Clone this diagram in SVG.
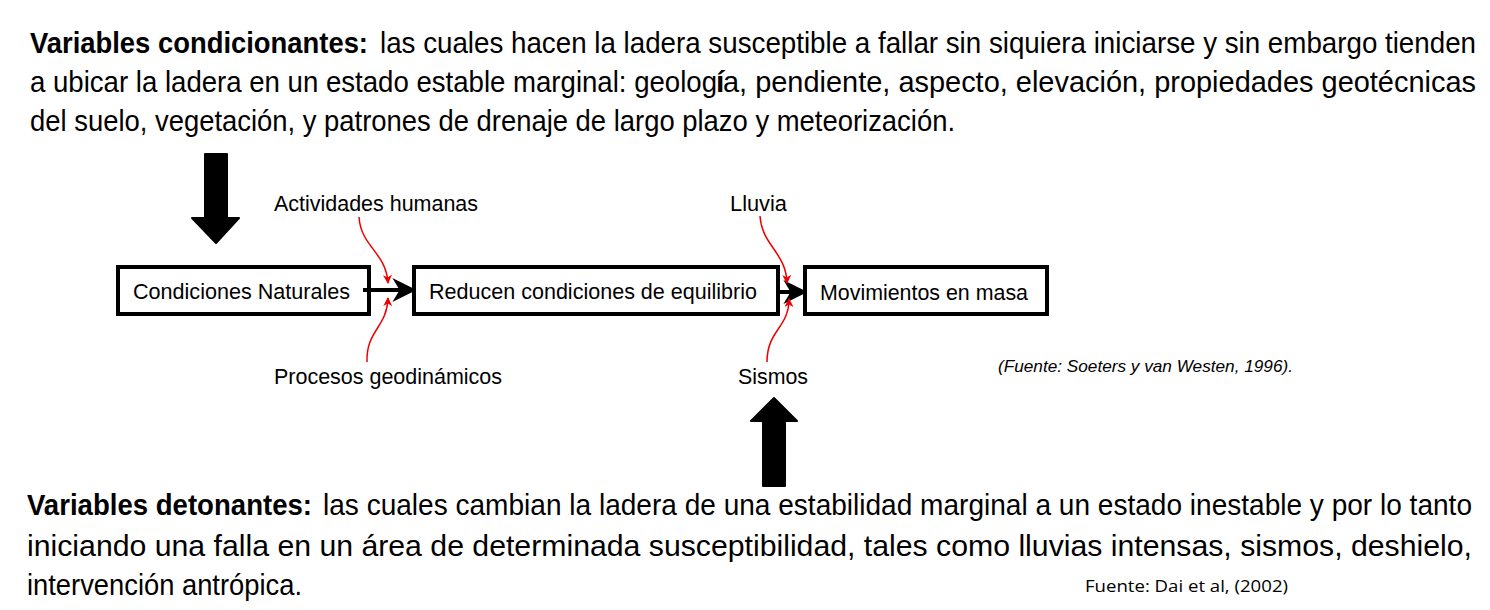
<svg xmlns="http://www.w3.org/2000/svg" width="1490" height="610" viewBox="0 0 1490 610">
<defs>
<style>
.para{font-family:"Liberation Sans",Arial,sans-serif;font-size:30px;fill:#000}
.b{font-weight:bold}
.lbl{font-family:"Liberation Sans",Arial,sans-serif;font-size:22px;fill:#000}
.box{fill:#fff;stroke:#000;stroke-width:4}
.red{fill:none;stroke:#e00;stroke-width:1.5;marker-end:url(#rh)}
.blk{fill:none;stroke:#000;stroke-width:4;marker-end:url(#bh)}
.big{fill:#000;stroke:#000;stroke-width:2;stroke-linejoin:round}
</style>
<marker id="rh" viewBox="0 0 10 10" refX="9" refY="5" markerWidth="9" markerHeight="9" orient="auto" markerUnits="userSpaceOnUse">
<path d="M0,0 L10,5 L0,10 L3,5 Z" fill="#e00"/>
</marker>
<marker id="bh" viewBox="0 0 10 10" refX="9" refY="5" markerWidth="6" markerHeight="6" orient="auto">
<path d="M0,0 L10,5 L0,10 L3,5 Z" fill="#000"/>
</marker>
</defs>
<rect width="1490" height="610" fill="#fff"/>
<g id="top-text">
<text class="para b" x="30" y="53" textLength="338" lengthAdjust="spacingAndGlyphs">Variables condicionantes:</text>
<text class="para" x="380" y="53" textLength="1096" lengthAdjust="spacingAndGlyphs">las cuales hacen la ladera susceptible a fallar sin siquiera iniciarse  y sin embargo tienden</text>
<text class="para" x="30" y="92" textLength="687" lengthAdjust="spacingAndGlyphs">a ubicar la ladera en un estado estable marginal: geolog</text>
<text class="para b" x="716" y="92" font-size="28">í</text>
<text class="para" x="723" y="92" textLength="753" lengthAdjust="spacingAndGlyphs">a, pendiente, aspecto, elevación, propiedades geotécnicas</text>
<text class="para" x="30" y="131" textLength="925" lengthAdjust="spacingAndGlyphs">del suelo, vegetación, y patrones de drenaje de largo plazo y meteorización.</text>
</g>
<g id="arrow-down">
<path class="big" d="M205,154 L227,154 L227,218 L239,218 L216,243 L192,218 L205,218 Z"/>
</g>
<g id="node-condiciones">
<rect class="box" x="118" y="267" width="251" height="47"/>
<text class="lbl" x="133" y="299" textLength="217" lengthAdjust="spacingAndGlyphs">Condiciones Naturales</text>
</g>
<g id="node-reducen">
<rect class="box" x="414" y="267" width="364" height="47"/>
<text class="lbl" x="429" y="299" textLength="328" lengthAdjust="spacingAndGlyphs">Reducen condiciones de equilibrio</text>
</g>
<g id="node-movimientos">
<rect class="box" x="805" y="267" width="242" height="47"/>
<text class="lbl" x="820" y="300" textLength="208" lengthAdjust="spacingAndGlyphs">Movimientos en masa</text>
</g>
<g id="labels">
<text class="lbl" x="274" y="211" textLength="204" lengthAdjust="spacingAndGlyphs">Actividades humanas</text>
<text class="lbl" x="274" y="384" textLength="228" lengthAdjust="spacingAndGlyphs">Procesos geodinámicos</text>
<text class="lbl" x="730" y="211" textLength="57" lengthAdjust="spacingAndGlyphs">Lluvia</text>
<text class="lbl" x="738" y="384" textLength="70" lengthAdjust="spacingAndGlyphs">Sismos</text>
</g>
<g id="connectors">
<line class="blk" x1="363" y1="290" x2="414" y2="290"/>
<line class="blk" x1="778" y1="292" x2="805" y2="292"/>
<path class="red" d="M359,217 C361,247 386,252 388,283"/>
<path class="red" d="M367,362 C366,330 387,328 388,298"/>
<path class="red" d="M760,216 C762,246 786,252 787,283"/>
<path class="red" d="M767,362 C767,330 789,328 789,299"/>
</g>
<g id="arrow-up">
<path class="big" d="M763,486 L785,486 L785,421 L797,421 L774,398 L751,421 L763,421 Z"/>
</g>
<g id="source1">
<text x="998" y="372" font-family="'Liberation Sans',Arial,sans-serif" font-size="17" font-style="italic" textLength="295" lengthAdjust="spacingAndGlyphs">(Fuente: Soeters y van Westen, 1996).</text>
</g>
<g id="bottom-text">
<text class="para b" x="27" y="515" textLength="285" lengthAdjust="spacingAndGlyphs">Variables detonantes:</text>
<text class="para" x="323" y="515" textLength="1149" lengthAdjust="spacingAndGlyphs">las cuales cambian la ladera de una estabilidad marginal a un estado inestable y por lo tanto</text>
<text class="para" x="27" y="556" textLength="1445" lengthAdjust="spacingAndGlyphs">iniciando una falla en un área de determinada susceptibilidad, tales como lluvias intensas, sismos, deshielo,</text>
<text class="para" x="27" y="595" textLength="275" lengthAdjust="spacingAndGlyphs">intervención antrópica.</text>
</g>
<g id="source2">
<text x="1085" y="592" font-family="'Open Sans','Liberation Sans',sans-serif" font-size="17" textLength="203" lengthAdjust="spacingAndGlyphs">Fuente: Dai et al, (2002)</text>
</g>
</svg>
